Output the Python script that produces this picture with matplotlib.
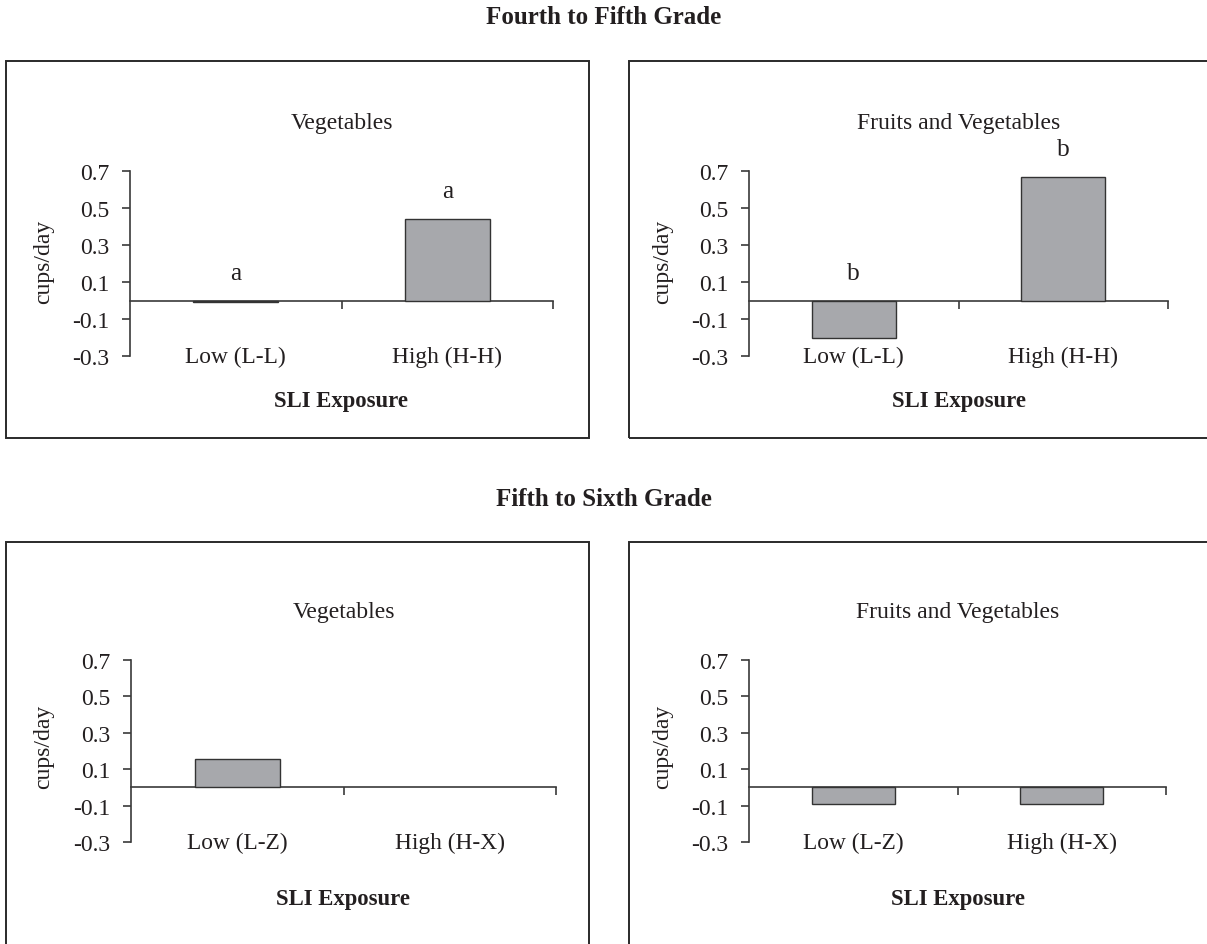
import matplotlib
matplotlib.use("Agg")
import matplotlib.pyplot as plt
from matplotlib.patches import Rectangle

plt.rcParams['font.family'] = ['Liberation Serif', 'DejaVu Serif']
plt.rcParams['axes.unicode_minus'] = False

# ---- data ----
section_titles = ["Fourth to Fifth Grade", "Fifth to Sixth Grade"]
panel_titles = ["Vegetables", "Fruits and Vegetables"]
categories_top = ["Low (L-L)", "High (H-H)"]
categories_bottom = ["Low (L-Z)", "High (H-X)"]
veg_4to5 = [-0.01, 0.44]
fv_4to5 = [-0.205, 0.67]
veg_5to6 = [0.155, 0.0]
fv_5to6 = [-0.093, -0.093]
letters_veg_4to5 = ["a", "a"]
letters_fv_4to5 = ["b", "b"]
y_ticks = [-0.3, -0.1, 0.1, 0.3, 0.5, 0.7]
y_tick_labels = ["-0.3", "-0.1", "0.1", "0.3", "0.5", "0.7"]
y_label = "cups/day"
x_label = "SLI Exposure"

W, H = 1207, 945
fig = plt.figure(figsize=(W / 100, H / 100), dpi=100)

TXT = "#231f20"
AX = "#3a3a3a"
BAR = "#a7a8ac"
FS_TICK = 17
FS_CAT = 16.8
FS_TITLE = 17
FS_XL = 16.4
FS_SEC = 18
FS_YL = 17

def px_ax(x0, x1, ytop, ybot):
    return [x0 / W, 1 - ybot / H, (x1 - x0) / W, (ybot - ytop) / H]

def frame(x0, y0, x1, y1):
    r = Rectangle((x0 / W, 1 - y1 / H), (x1 - x0) / W, (y1 - y0) / H,
                  transform=fig.transFigure, fill=False, edgecolor="#2a2a2a",
                  linewidth=1.4, clip_on=False)
    fig.add_artist(r)

# frames
frame(6, 62, 589, 439)
frame(629, 62, W + 20, 439)
frame(6, 543, 589, H + 20)
frame(629, 543, W + 20, H + 20)

fig.text(604 / W, 1 - 18 / H, section_titles[0], ha="center", va="center",
         fontsize=FS_SEC, fontweight="bold", color=TXT)
fig.text(604 / W, 1 - 500 / H, section_titles[1], ha="center", va="center",
         fontsize=FS_SEC, fontweight="bold", color=TXT)

panels = [
    dict(rect=px_ax(130, 553, 172, 357), vals=veg_4to5, cats=categories_top,
         title=panel_titles[0], letters=letters_veg_4to5, ty=123, xl=402, yl=(44, 262)),
    dict(rect=px_ax(749, 1168, 172, 357), vals=fv_4to5, cats=categories_top,
         title=panel_titles[1], letters=letters_fv_4to5, ty=123, xl=402, yl=(663, 262)),
    dict(rect=px_ax(131, 556, 661, 843), vals=veg_5to6, cats=categories_bottom,
         title=panel_titles[0], letters=None, ty=613, xl=900, yl=(44, 747)),
    dict(rect=px_ax(749, 1166, 661, 843), vals=fv_5to6, cats=categories_bottom,
         title=panel_titles[1], letters=None, ty=613, xl=900, yl=(663, 747)),
]

for p in panels:
    ax = fig.add_axes(p["rect"])
    x = list(range(len(p["cats"])))
    vals = p["vals"]
    ax.bar(x, vals, width=0.4, color=BAR, edgecolor="#333333",
           linewidth=[1.0 if v != 0 else 0 for v in vals], zorder=3)
    ax.set_xlim(-0.5, 1.5)
    ax.set_ylim(-0.3, 0.7)
    for s in ["top", "right"]:
        ax.spines[s].set_visible(False)
    ax.spines["bottom"].set_position(("data", 0))
    ax.spines["bottom"].set_color(AX)
    ax.spines["bottom"].set_linewidth(1.2)
    ax.spines["left"].set_color(AX)
    ax.spines["left"].set_linewidth(1.2)
    ax.set_yticks(y_ticks)
    ax.set_yticklabels(y_tick_labels)
    ax.set_xticks([0.5, 1.5])
    ax.set_xticklabels([])
    ax.tick_params(axis="y", direction="out", length=6, width=1.2, color=AX,
                   labelsize=FS_TICK, labelcolor=TXT, pad=9)
    ax.tick_params(axis="x", direction="out", length=6, width=1.2, color=AX)
    ax.patch.set_alpha(0)
    for i, c in enumerate(p["cats"]):
        ax.text(i, -0.3, c, ha="center", va="center", fontsize=FS_CAT, color=TXT)
    if p["letters"]:
        for i, (v, l) in enumerate(zip(vals, p["letters"])):
            ax.text(i, max(v, 0) + 0.15, l, ha="center", va="center",
                    fontsize=FS_CAT + 1.5, color=TXT)
    r = p["rect"]
    cx = r[0] + r[2] / 2
    fig.text(cx, 1 - p["ty"] / H, p["title"], ha="center", va="center",
             fontsize=FS_TITLE, color=TXT)
    fig.text(cx, 1 - p["xl"] / H, x_label, ha="center", va="center",
             fontsize=FS_XL, fontweight="bold", color=TXT)
    fig.text(p["yl"][0] / W, 1 - p["yl"][1] / H, y_label, ha="center", va="center",
             rotation=90, fontsize=FS_YL, color=TXT)

fig.savefig("out.png", dpi=100, facecolor="white")
